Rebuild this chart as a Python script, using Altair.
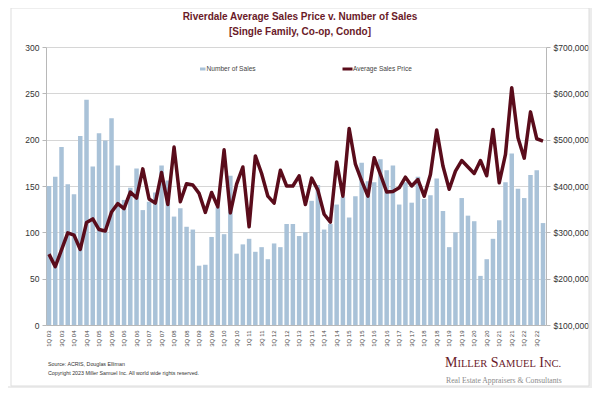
import altair as alt
import pandas as pd

years = list(range(2003, 2023))
quarters = [f"{q}Q {y % 100:02d}" for y in years for q in range(1, 5)]
label_quarters = [q for q in quarters if q.startswith(("1Q", "3Q"))]

sales = [150, 160, 192, 152, 141, 204, 243, 171, 207, 199, 223, 172,
         135, 148, 169, 124, 133, 143, 172, 156,
         117, 126, 106, 103,
         64, 65, 95, 127,
         98, 161, 77, 87,
         93, 79, 84, 71,
         88, 84, 109, 109,
         96, 100, 134, 151,
         103, 109, 130, 138,
         116, 139, 175, 155,
         154, 179, 167, 172,
         130, 154, 132, 160,
         136, 140, 158, 123,
         84, 100, 137, 118,
         112, 53, 71, 93,
         113, 154, 185, 147,
         137, 162, 167, 110]

price_k = [253, 226, 262, 299, 294, 263, 321, 329, 306, 303, 344, 362,
           351, 387, 374, 437, 372, 363, 429, 360,
           484, 366, 405, 402,
           384, 343, 386, 355,
           478, 342, 404, 441,
           312, 465, 427, 378,
           363, 434, 400, 400,
           422, 360, 417, 391,
           339, 322, 452, 378,
           524, 447, 411, 378,
           461, 425, 387, 388,
           396, 419, 400, 414,
           378, 425, 521, 443,
           393, 432, 455, 441,
           427, 455, 422, 522,
           407, 468, 612, 504,
           460, 560, 502, 497]

count_ticks = [0, 50, 100, 150, 200, 250, 300]
price_ticks = [100000, 200000, 300000, 400000, 500000, 600000, 700000]

title_lines = ["Riverdale Average Sales Price v. Number of Sales", "[Single Family, Co-op, Condo]"]
legend_labels = ["Number of Sales", "Average Sales Price"]
footer_lines = ["Source: ACRIS, Douglas Elliman",
                "Copyright 2023 Miller Samuel Inc.  All world wide rights reserved."]
tagline = "Real Estate Appraisers & Consultants"

df = pd.DataFrame({"q": quarters, "sales": sales, "price": [p * 1000 for p in price_k]})
one = pd.DataFrame({"a": [0]})

BAR = "#a9c2d8"
LINE = "#5a0c1b"
MAROON = "#6a1a29"
AXC = "#b8b8b8"
FONT = "Liberation Sans"
SERIF = "Liberation Serif"

x_enc = alt.X(
    "q:N", sort=quarters,
    scale=alt.Scale(paddingInner=0.28, paddingOuter=0.12),
    axis=alt.Axis(title=None, values=label_quarters, labelAngle=-90, labelFontSize=6,
                  labelColor="#444444", labelFont=FONT, ticks=False, domainColor=AXC,
                  labelPadding=5),
)

bars = alt.Chart(df).mark_bar(color=BAR).encode(
    x=x_enc,
    y=alt.Y("sales:Q", scale=alt.Scale(domain=[0, 300]),
            axis=alt.Axis(title=None, values=count_ticks, orient="left", grid=True,
                          gridColor="#d6d6d6", domainColor=AXC, tickColor=AXC, tickSize=4,
                          labelFontSize=8.5, labelColor="#333333", labelFont=FONT,
                          labelPadding=3)),
)

line = alt.Chart(df).mark_line(color=LINE, strokeWidth=3.5, strokeJoin="round").encode(
    x=alt.X("q:N", sort=quarters),
    y=alt.Y("price:Q", scale=alt.Scale(domain=[100000, 700000]),
            axis=alt.Axis(title=None, values=price_ticks, orient="right", grid=False,
                          format="$,.0f", domainColor=AXC, tickColor=AXC, tickSize=4,
                          labelFontSize=8.5, labelColor="#333333", labelFont=FONT,
                          labelPadding=3)),
)


def txt(text, x, y, size, color, font=FONT, weight="normal", align="left", baseline="middle"):
    return alt.Chart(one).mark_text(
        text=text, fontSize=size, color=color, font=font, fontWeight=weight,
        align=align, baseline=baseline,
    ).encode(x=alt.value(x), y=alt.value(y))


# grey page frame around the white card (stroke only, so axes stay visible)
frame = alt.Chart(one).mark_rect(fill="transparent", stroke="#ececec", strokeWidth=7).encode(
    x=alt.value(-41.5), x2=alt.value(546.5), y=alt.value(-42.5), y2=alt.value(342.5))
edge = alt.Chart(one).mark_rect(fill="transparent", stroke="#dddddd", strokeWidth=1).encode(
    x=alt.value(-35), x2=alt.value(543), y=alt.value(-39), y2=alt.value(339))

leg_sq = alt.Chart(one).mark_rect(color=BAR).encode(
    x=alt.value(154), x2=alt.value(159.5), y=alt.value(20.5), y2=alt.value(23.5))
leg_ln = alt.Chart(one).mark_rule(color=LINE, strokeWidth=3).encode(
    x=alt.value(296.5), x2=alt.value(306.5), y=alt.value(22))

big, small = 14, 10.5
logo_parts = []
cx = 399
seq = [("M", big, 12.45, 0), ("ILLER", small, 29.75, 0), ("S", big, 7.78, 3.5),
       ("AMUEL", small, 37.3, 0), ("I", big, 4.66, 3.5), ("NC.", small, 17.2, 0)]
for t, s, w, gap in seq:
    cx += gap
    logo_parts.append(txt(t, cx, 320, s, MAROON, font=SERIF, baseline="alphabetic"))
    cx += w

layers = [bars, line, frame, edge,
          txt(title_lines[0], 254, -30, 10, MAROON, weight="bold", align="center"),
          txt(title_lines[1], 254, -15, 10, MAROON, weight="bold", align="center"),
          leg_sq, txt(legend_labels[0], 160.5, 22, 6.6, "#444444"),
          leg_ln, txt(legend_labels[1], 307, 22, 6.5, "#444444"),
          txt(footer_lines[0], 2, 317, 5.3, "#333333"),
          txt(footer_lines[1], 2, 326, 5.3, "#333333"),
          txt(tagline, 400, 334, 7.7, "#8a8a8a", font=SERIF),
          ] + logo_parts

chart = alt.layer(*layers).resolve_scale(y="independent").properties(
    width=500, height=278,
    autosize=alt.AutoSizeParams(type="none"),
    padding={"left": 38, "top": 39, "right": 46, "bottom": 63},
    background="white",
).configure_view(stroke=None)

chart.save("out.html", embed_options={"renderer": "svg", "actions": False})
